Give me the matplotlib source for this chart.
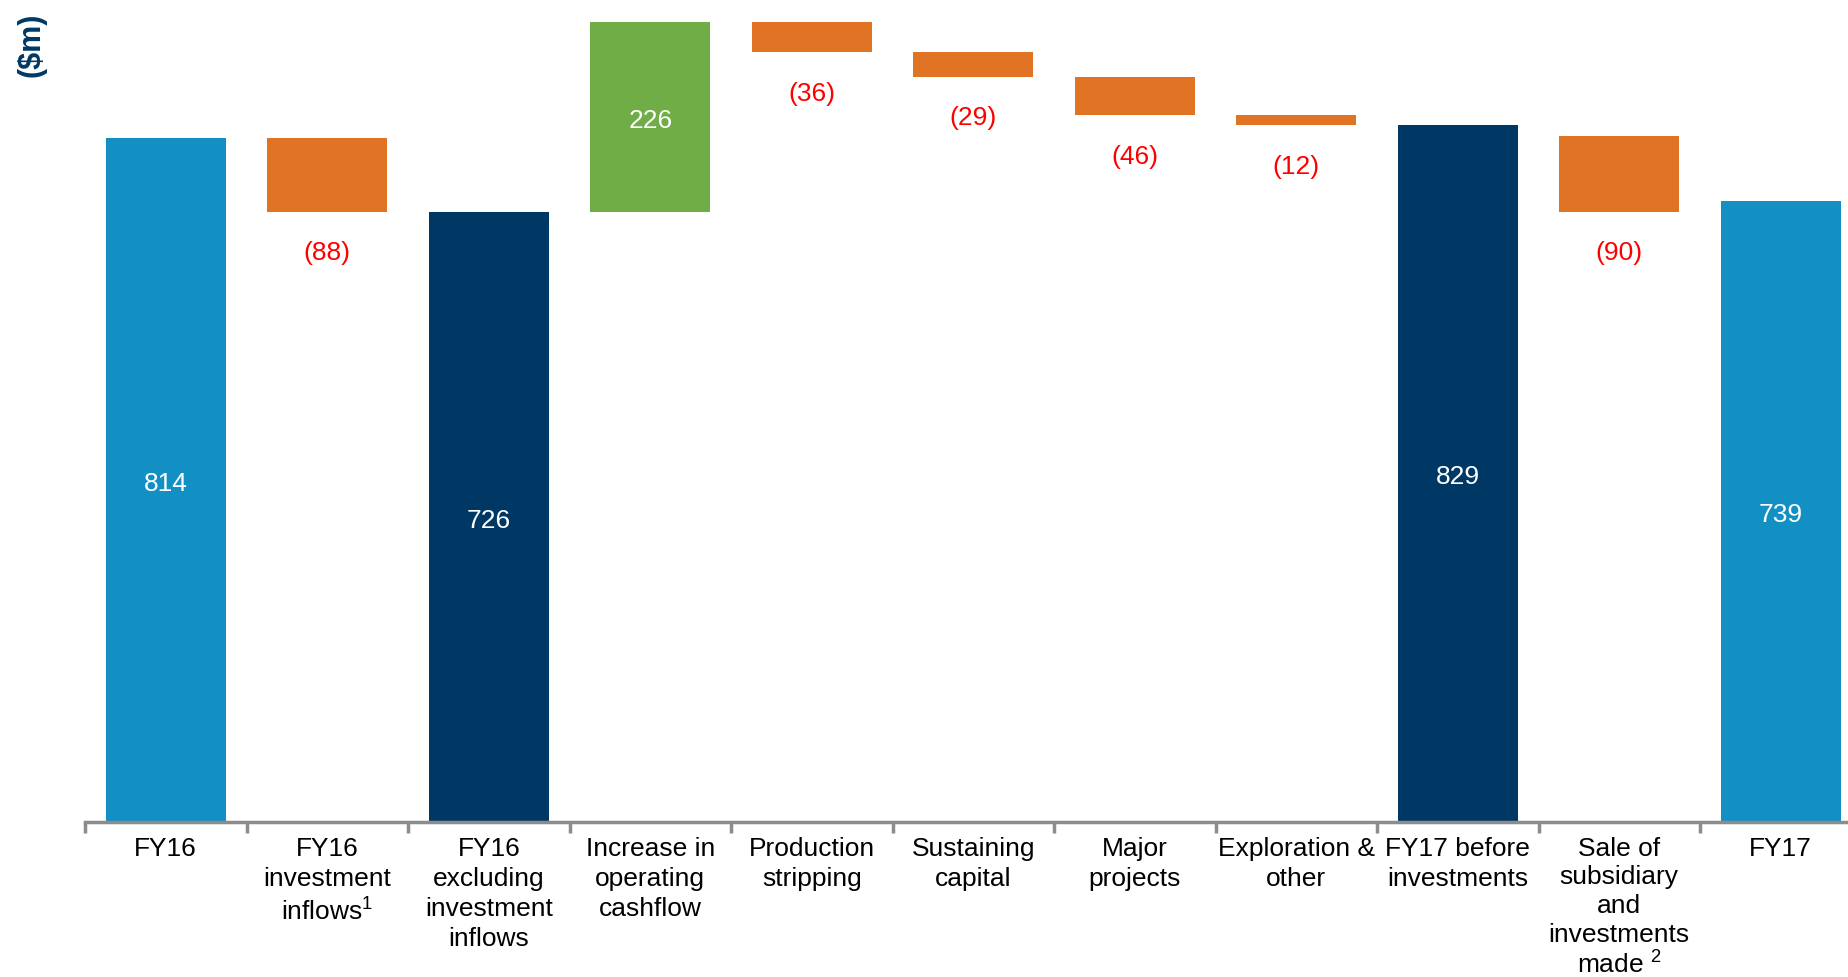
import matplotlib
matplotlib.use("Agg")
import matplotlib.pyplot as plt
from matplotlib.ticker import FixedLocator

plt.rcParams['font.family'] = ['Liberation Sans', 'DejaVu Sans']
plt.rcParams['mathtext.fontset'] = 'custom'
plt.rcParams['mathtext.rm'] = 'Liberation Sans'
plt.rcParams['mathtext.it'] = 'Liberation Sans'
plt.rcParams['mathtext.bf'] = 'Liberation Sans:bold'

# data (US$ m)
categories = ["FY16", "FY16\ninvestment\ninflows$^{1}$", "FY16\nexcluding\ninvestment\ninflows",
              "Increase in\noperating\ncashflow", "Production\nstripping", "Sustaining\ncapital",
              "Major\nprojects", "Exploration &\nother", "FY17 before\ninvestments",
              "Sale of\nsubsidiary\nand\ninvestments\nmade $^{2}$", "FY17"]
values = [814, -88, 726, 226, -36, -29, -46, -12, 829, -90, 739]
bases = [0, 726, 0, 726, 916, 887, 841, 829, 0, 726, 0]
kinds = ["total", "down", "subtotal", "up", "down", "down", "down", "down", "subtotal", "down", "total"]

colors = {"total": "#1290C3", "subtotal": "#003865", "up": "#70AD47", "down": "#E17324"}
axis_grey = "#8C8C8C"

fig = plt.figure(figsize=(18.48, 9.78), dpi=100)
n = len(categories)
ax = fig.add_axes([85 / 1848, 155 / 978, n * 161.5 / 1848, 800 / 978])

xs = list(range(n))
heights = [abs(v) for v in values]
bar_colors = [colors[k] for k in kinds]
ax.bar(xs, heights, bottom=bases, width=0.745, color=bar_colors, linewidth=0)

for x, v, b, k in zip(xs, values, bases, kinds):
    if k == "down":
        ax.annotate(f"({abs(v)})", (x, b), xytext=(0, -29), textcoords="offset points",
                    ha="center", va="center", color="#FF0000", fontsize=19)
    else:
        # slight downward nudge so the number sits like the original
        ax.annotate(f"{abs(v)}", (x, b + abs(v) / 2), xytext=(0, -2), textcoords="offset points",
                    ha="center", va="center", color="white", fontsize=19)

ax.set_xlim(-0.5, n - 0.5)
ax.set_ylim(0, 952)

for side in ["top", "right", "left"]:
    ax.spines[side].set_visible(False)
ax.spines["bottom"].set_color(axis_grey)
ax.spines["bottom"].set_linewidth(2.5)
ax.set_yticks([])

ax.set_xticks(xs)
labels = ax.set_xticklabels(categories, fontsize=19, linespacing=1.32)
# the five-line label would run off the bottom edge, so tighten it a little
labels[9].set_linespacing(1.24)
ax.tick_params(axis="x", which="major", length=0, pad=10)
ax.xaxis.set_minor_locator(FixedLocator([i - 0.5 for i in range(n + 1)]))
ax.tick_params(axis="x", which="minor", length=8, width=2.5, color=axis_grey, direction="out")

fig.text(31 / 1848, 1 - 45 / 978, "($m)", rotation=90, ha="center", va="center",
         fontsize=22, fontweight="bold", color="#003865")

fig.savefig("out.png", dpi=100)
